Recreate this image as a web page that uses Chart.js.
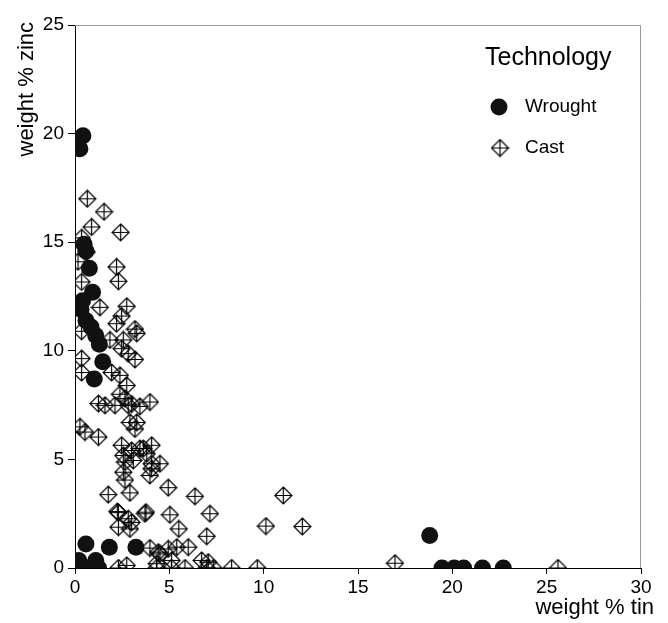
<!DOCTYPE html>
<html>
<head>
<meta charset="utf-8">
<script src="https://cdn.jsdelivr.net/npm/chart.js@4/dist/chart.umd.min.js"></script>
<style>
  html, body { margin: 0; padding: 0; background: #fff; }
</style>
</head>
<body>
<canvas id="tinZinc" width="668" height="623"></canvas>
<script>
// weight % tin / weight % zinc
const wroughtTin  = [0.42, 0.26, 0.48, 0.58, 0.76, 0.93, 0.40, 0.32, 0.15, 0.58, 0.85, 1.10, 1.29, 1.47, 1.02,
                     0.58, 0.20, 1.10, 1.82, 3.23, 0.45, 0.10, 0.70, 1.25,
                     18.8, 19.45, 20.1, 20.6, 21.6, 22.7];
const wroughtZinc = [19.9, 19.3, 14.9, 14.6, 13.8, 12.7, 12.3, 11.9, 12.0, 11.4, 11.1, 10.7, 10.3, 9.5, 8.7,
                     1.1, 0.35, 0.35, 0.96, 0.96, 0.0, 0.0, 0.0, 0.0,
                     1.5, 0, 0, 0, 0, 0];

const castTin  = [0.65, 1.54, 0.88, 2.42, 0.35, 0.62, 0.16, 2.20, 2.30, 0.35, 1.32, 2.74, 2.47, 2.20, 3.18,
                  3.27, 0.35, 1.85, 2.56, 2.47, 2.82, 3.18, 0.35, 0.35, 1.94, 2.38, 2.74, 2.38, 1.24, 1.59,
                  2.12, 2.65, 2.82, 3.00, 3.44, 3.97, 2.91, 3.27, 3.18, 0.26, 0.53, 1.24, 2.47, 3.00, 3.44,
                  3.62, 4.06, 2.56, 3.09, 3.80, 4.50, 4.06, 2.65, 4.06, 2.56, 3.97, 2.65, 4.94, 1.76, 2.91,
                  6.36, 2.24, 2.30, 3.76, 3.71, 5.03, 7.15, 2.82, 3.00, 2.30, 2.91, 5.50, 6.98, 3.97, 4.41,
                  4.94, 5.39, 6.00, 4.50, 6.71, 7.06, 2.74, 4.33, 5.12, 11.04, 10.12, 12.05, 16.96,
                  2.30, 4.33, 5.12, 5.83, 6.98, 7.33, 8.30, 9.66, 25.6];
const castZinc = [17.0, 16.4, 15.7, 15.45, 15.2, 14.55, 14.1, 13.86, 13.2, 13.17, 12.0, 12.05, 11.6, 11.25, 11.0,
                  10.8, 10.9, 10.5, 10.5, 10.1, 9.87, 9.6, 9.64, 9.0, 9.0, 8.87, 8.4, 8.0, 7.57, 7.49,
                  7.49, 7.8, 7.49, 7.55, 7.44, 7.64, 6.7, 6.7, 6.4, 6.5, 6.26, 6.03, 5.65, 5.41, 5.5,
                  5.5, 5.65, 5.18, 4.95, 5.26, 4.8, 4.8, 4.88, 4.57, 4.41, 4.26, 4.05, 3.7, 3.38, 3.46,
                  3.3, 2.6, 2.55, 2.57, 2.5, 2.45, 2.5, 2.27, 2.1, 1.88, 1.8, 1.8, 1.46, 0.92, 0.73,
                  0.88, 0.96, 0.96, 0.65, 0.35, 0.27, 0.12, 0.2, 0.35, 3.34, 1.93, 1.91, 0.22,
                  0, 0, 0, 0, 0, 0, 0, 0, 0];

const seriesNames = ['Wrought', 'Cast'];
const xTickValues = [0, 5, 10, 15, 20, 25, 30];
const yTickValues = [0, 5, 10, 15, 20, 25];

const ink = '#000';
const font = '"Liberation Sans", Arial, sans-serif';

// diamond with a cross inside
function diamondMarker(r) {
  const s = Math.ceil(r * 2 + 2);
  const c = document.createElement('canvas');
  c.width = s; c.height = s;
  const g = c.getContext('2d');
  const m = s / 2;
  g.strokeStyle = '#000';
  g.lineWidth = 1.2;
  g.beginPath();
  g.moveTo(m, m - r); g.lineTo(m + r, m); g.lineTo(m, m + r); g.lineTo(m - r, m); g.closePath();
  g.moveTo(m, m - r); g.lineTo(m, m + r);
  g.moveTo(m - r, m); g.lineTo(m + r, m);
  g.stroke();
  return c;
}
const diamond = diamondMarker(8.5);

function toPoints(xs, ys) {
  return xs.map((x, i) => ({ x: x, y: ys[i] }));
}

// frame, axis titles and legend
const decorations = {
  id: 'decorations',
  afterDraw(chart) {
    const ctx = chart.ctx;
    const a = chart.chartArea;
    ctx.save();
    ctx.strokeStyle = '#9a9a9a';
    ctx.lineWidth = 1;
    ctx.beginPath();
    ctx.moveTo(a.left, a.top + 0.5);
    ctx.lineTo(a.right - 0.5, a.top + 0.5);
    ctx.lineTo(a.right - 0.5, a.bottom);
    ctx.stroke();

    ctx.fillStyle = ink;
    ctx.font = '22px ' + font;
    ctx.textBaseline = 'middle';
    ctx.textAlign = 'right';
    ctx.fillText('weight % tin', 654, 608);

    ctx.save();
    ctx.translate(27, 22);
    ctx.rotate(-Math.PI / 2);
    ctx.fillText('weight % zinc', 0, 0);
    ctx.restore();

    ctx.textAlign = 'left';
    ctx.font = '25px ' + font;
    ctx.fillText('Technology', 485, 58);
    ctx.font = '19px ' + font;
    ctx.fillText(seriesNames[0], 525, 107);
    ctx.fillText(seriesNames[1], 525, 148);
    ctx.fillStyle = '#111';
    ctx.beginPath();
    ctx.arc(499, 107, 8.5, 0, Math.PI * 2);
    ctx.fill();
    ctx.drawImage(diamond, 500 - diamond.width / 2, 148 - diamond.height / 2);
    ctx.restore();
  }
};

new Chart(document.getElementById('tinZinc'), {
  type: 'scatter',
  data: {
    datasets: [{
      label: seriesNames[0],
      data: toPoints(wroughtTin, wroughtZinc),
      pointStyle: 'circle',
      pointRadius: 8.5,
      backgroundColor: '#111',
      borderColor: '#111',
      borderWidth: 0,
      clip: 0
    }, {
      label: seriesNames[1],
      data: toPoints(castTin, castZinc),
      pointStyle: diamond,
      pointRadius: 8.5,
      clip: 0
    }]
  },
  options: {
    responsive: false,
    animation: false,
    events: [],
    layout: { padding: { top: 25, right: 27, left: 0, bottom: 0 } },
    plugins: {
      legend: { display: false },
      tooltip: { enabled: false }
    },
    scales: {
      x: {
        type: 'linear',
        min: 0,
        max: 30,
        afterFit: scale => { scale.height = 55; },
        afterBuildTicks: scale => { scale.ticks = xTickValues.map(v => ({ value: v })); },
        border: { display: true, color: ink, width: 1 },
        grid: { drawOnChartArea: false, tickLength: 6, color: ink },
        ticks: { color: ink, padding: 2, maxRotation: 0, font: { family: font, size: 19 } }
      },
      y: {
        type: 'linear',
        min: 0,
        max: 25,
        afterFit: scale => { scale.width = 75; },
        afterBuildTicks: scale => { scale.ticks = yTickValues.map(v => ({ value: v })); },
        border: { display: true, color: ink, width: 1 },
        grid: { drawOnChartArea: false, tickLength: 7, color: ink },
        ticks: { color: ink, padding: 4, font: { family: font, size: 19 } }
      }
    }
  },
  plugins: [decorations]
});
</script>
</body>
</html>
